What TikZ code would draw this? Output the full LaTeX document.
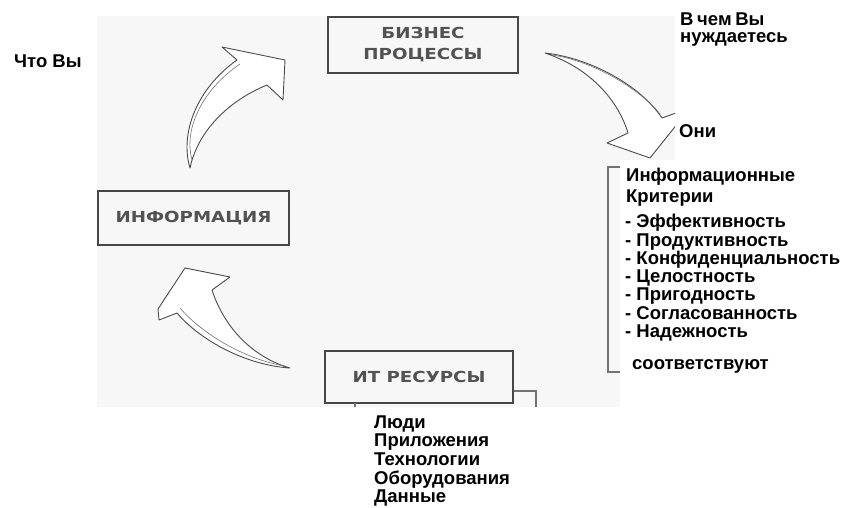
\documentclass[tikz,border=0pt]{standalone}
\usepackage{fontspec}
\setmainfont{Liberation Sans}
\newfontfamily\scanfont[FakeStretch=1.2]{DejaVu Sans Bold}
\begin{document}
\begin{tikzpicture}[x=1pt,y=-1pt,
  scanbox/.style={draw=black!72,line width=1.1pt,inner sep=0pt,
    font=\scanfont\fontsize{15.2}{21}\selectfont,text=black!68,align=center},
  lab/.style={anchor=base west,inner sep=0pt,font=\bfseries\fontsize{18.5}{18}\selectfont,text=black},
  arr/.style={draw=black!70,line width=0.9pt,fill=white,line join=round},
  arrln/.style={draw=black!55,line width=0.6pt},
  brk/.style={draw=black!55,line width=1.1pt}]
\useasboundingbox (0,0) rectangle (841,507);
% scanned background
\path[fill=black!3] (97,16) -- (675,16) -- (675,160) -- (620,160) -- (620,407) -- (97,407) -- cycle;
% boxes
\node[scanbox,minimum width=190pt,minimum height=56pt] (biz) at (423,45) {БИЗНЕС\\ПРОЦЕССЫ};
\node[scanbox,minimum width=191pt,minimum height=54pt] (info) at (193.5,218) {ИНФОРМАЦИЯ};
\node[scanbox,minimum width=188pt,minimum height=52pt] (ires) at (419,377) {ИТ РЕСУРСЫ};
\begin{scope}
\clip (97,16) -- (675,16) -- (675,160) -- (620,160) -- (620,407) -- (97,407) -- cycle;
% arrow A : information -> business
\path[arr] (190,168) .. controls (180,135) and (195,90) .. (237,60) -- (222,47) -- (285,60) -- (283,100) -- (267,85) .. controls (230,100) and (198,130) .. (190,168) -- cycle;
\path[arrln] (192,160) .. controls (184,132) and (199,92) .. (240,64);
% arrow B : resources -> information
\path[arr] (290,368) .. controls (255,358) and (225,330) .. (212,290) -- (230,277) -- (185,268) -- (158,309) -- (159,320) -- (177,313) .. controls (200,340) and (245,365) .. (290,368) -- cycle;
\path[arrln] (180,308) .. controls (204,336) and (248,360) .. (285,366);
% arrow C : business -> criteria
\path[arr] (545,53) .. controls (590,58) and (640,85) .. (662,118) -- (690,108) -- (650,158) -- (607,143) -- (628,133) .. controls (618,100) and (590,68) .. (545,53) -- cycle;
\path[arrln] (552,55) .. controls (594,61) and (641,90) .. (660,114);
% brackets
\coordinate (rbt) at (620,167);
\coordinate (rbtc) at (608,167);
\coordinate (rbbc) at (608,372);
\coordinate (rbb) at (620,372);
\draw[brk] (rbt) -- (rbtc) -- (rbbc) -- (rbb);
\coordinate (ra) at (ires.east |- 0,391);
\coordinate (rb) at (536,391);
\coordinate (rc) at (536,410);
\draw[brk] (ra) -- (rb) -- (rc);
\coordinate (la) at (355,403);
\coordinate (lb) at (355,410);
\draw[brk] (la) -- (lb);
\end{scope}
% labels
\node[lab] (what) at (14,67) {Что Вы};
\node[lab] (need1) at (680,25) {В\hspace{-1.5pt} чем\hspace{-1.5pt} Вы};
\node[lab] (need2) at (680,42.5) {нуждаетесь};
\node[lab] (they) at (679,137) {Они};
\node[lab] (ic1) at (626,181.7) {Информационные};
\node[lab] (ic2) at (626,202.3) {Критерии};
\foreach \t [count=\i] in {Эффективность,Продуктивность,Конфиденциальность,Целостность,Пригодность,Согласованность,Надежность}
  \node[lab] (crit\i) at (625,{227.7+18.3*(\i-1)}) {- \t};
\node[lab] (corr) at (632,369) {соответствуют};
\foreach \t [count=\i] in {Люди,Приложения,Технологии,Оборудования,Данные}
  \node[lab] (res\i) at (374,{428+18.7*(\i-1)}) {\t};
\end{tikzpicture}
\end{document}
